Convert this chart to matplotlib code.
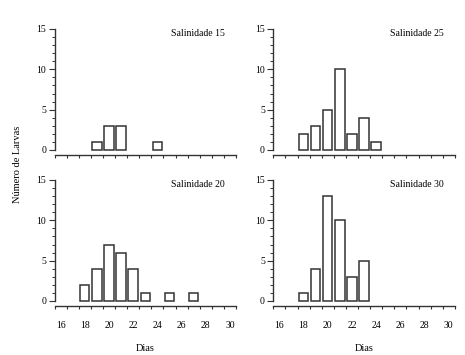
import matplotlib
matplotlib.use("Agg")
import matplotlib.pyplot as plt
import numpy as np

plt.rcParams['font.family'] = ['Liberation Serif', 'DejaVu Serif']

titles = ["Salinidade 15", "Salinidade 25", "Salinidade 20", "Salinidade 30"]
days_s15 = [19, 20, 21, 24]
vals_s15 = [1, 3, 3, 1]
days_s25 = [18, 19, 20, 21, 22, 23, 24]
vals_s25 = [2, 3, 5, 10, 2, 4, 1]
days_s20 = [18, 19, 20, 21, 22, 23, 25, 27]
vals_s20 = [2, 4, 7, 6, 4, 1, 1, 1]
days_s30 = [18, 19, 20, 21, 22, 23]
vals_s30 = [1, 4, 13, 10, 3, 5]
x_labels = [16, 18, 20, 22, 24, 26, 28, 30]
y_labels = [0, 5, 10, 15]

data = [(days_s15, vals_s15), (days_s25, vals_s25), (days_s20, vals_s20), (days_s30, vals_s30)]

W, H = 465, 355
fig = plt.figure(figsize=(W / 100, H / 100), dpi=100)

lefts = [54.5, 273.3]
width = 181.5
tops = [29, 180]
height = 126

col = '#333333'
for i, (d, v) in enumerate(data):
    r, c = divmod(i, 2)
    x0 = lefts[c] / W
    y0 = 1 - (tops[r] + height) / H
    ax = fig.add_axes([x0, y0, width / W, height / H])
    ax.bar(d, v, width=0.77, facecolor='white', edgecolor=col, linewidth=1.1)
    ax.set_xlim(15.5, 30.5)
    ax.set_ylim(-0.62, 15)
    for s in ['top', 'right']:
        ax.spines[s].set_visible(False)
    ax.spines['left'].set_bounds(0, 15)
    for s in ['left', 'bottom']:
        ax.spines[s].set_color(col)
        ax.spines[s].set_linewidth(1.0)
    ax.set_yticks(y_labels)
    ax.set_yticks(np.arange(0, 16, 1), minor=True)
    ax.tick_params(axis='y', which='major', length=4, width=0.8, color=col,
                   labelsize=7, pad=2)
    ax.tick_params(axis='y', which='minor', length=2.2, width=0.7, color=col)
    ax.set_xticks(x_labels)
    ax.set_xticks(np.arange(15.5, 31, 1), minor=True)
    ax.tick_params(axis='x', which='major', length=0, labelsize=7, pad=11)
    ax.tick_params(axis='x', which='minor', length=2.5, width=0.8, color=col,
                   direction='out')
    if r == 0:
        ax.tick_params(axis='x', which='major', labelbottom=False)
    ax.text(29.6, 14.5, titles[i], ha='right', va='center', fontsize=7)
    if r == 1:
        ax.set_xlabel('Dias', fontsize=7.5, labelpad=10)

fig.text(18 / W, 1 - 164 / H, 'Número de Larvas', rotation=90, ha='center',
         va='center', fontsize=7.5)

fig.savefig('out.png', dpi=100)
